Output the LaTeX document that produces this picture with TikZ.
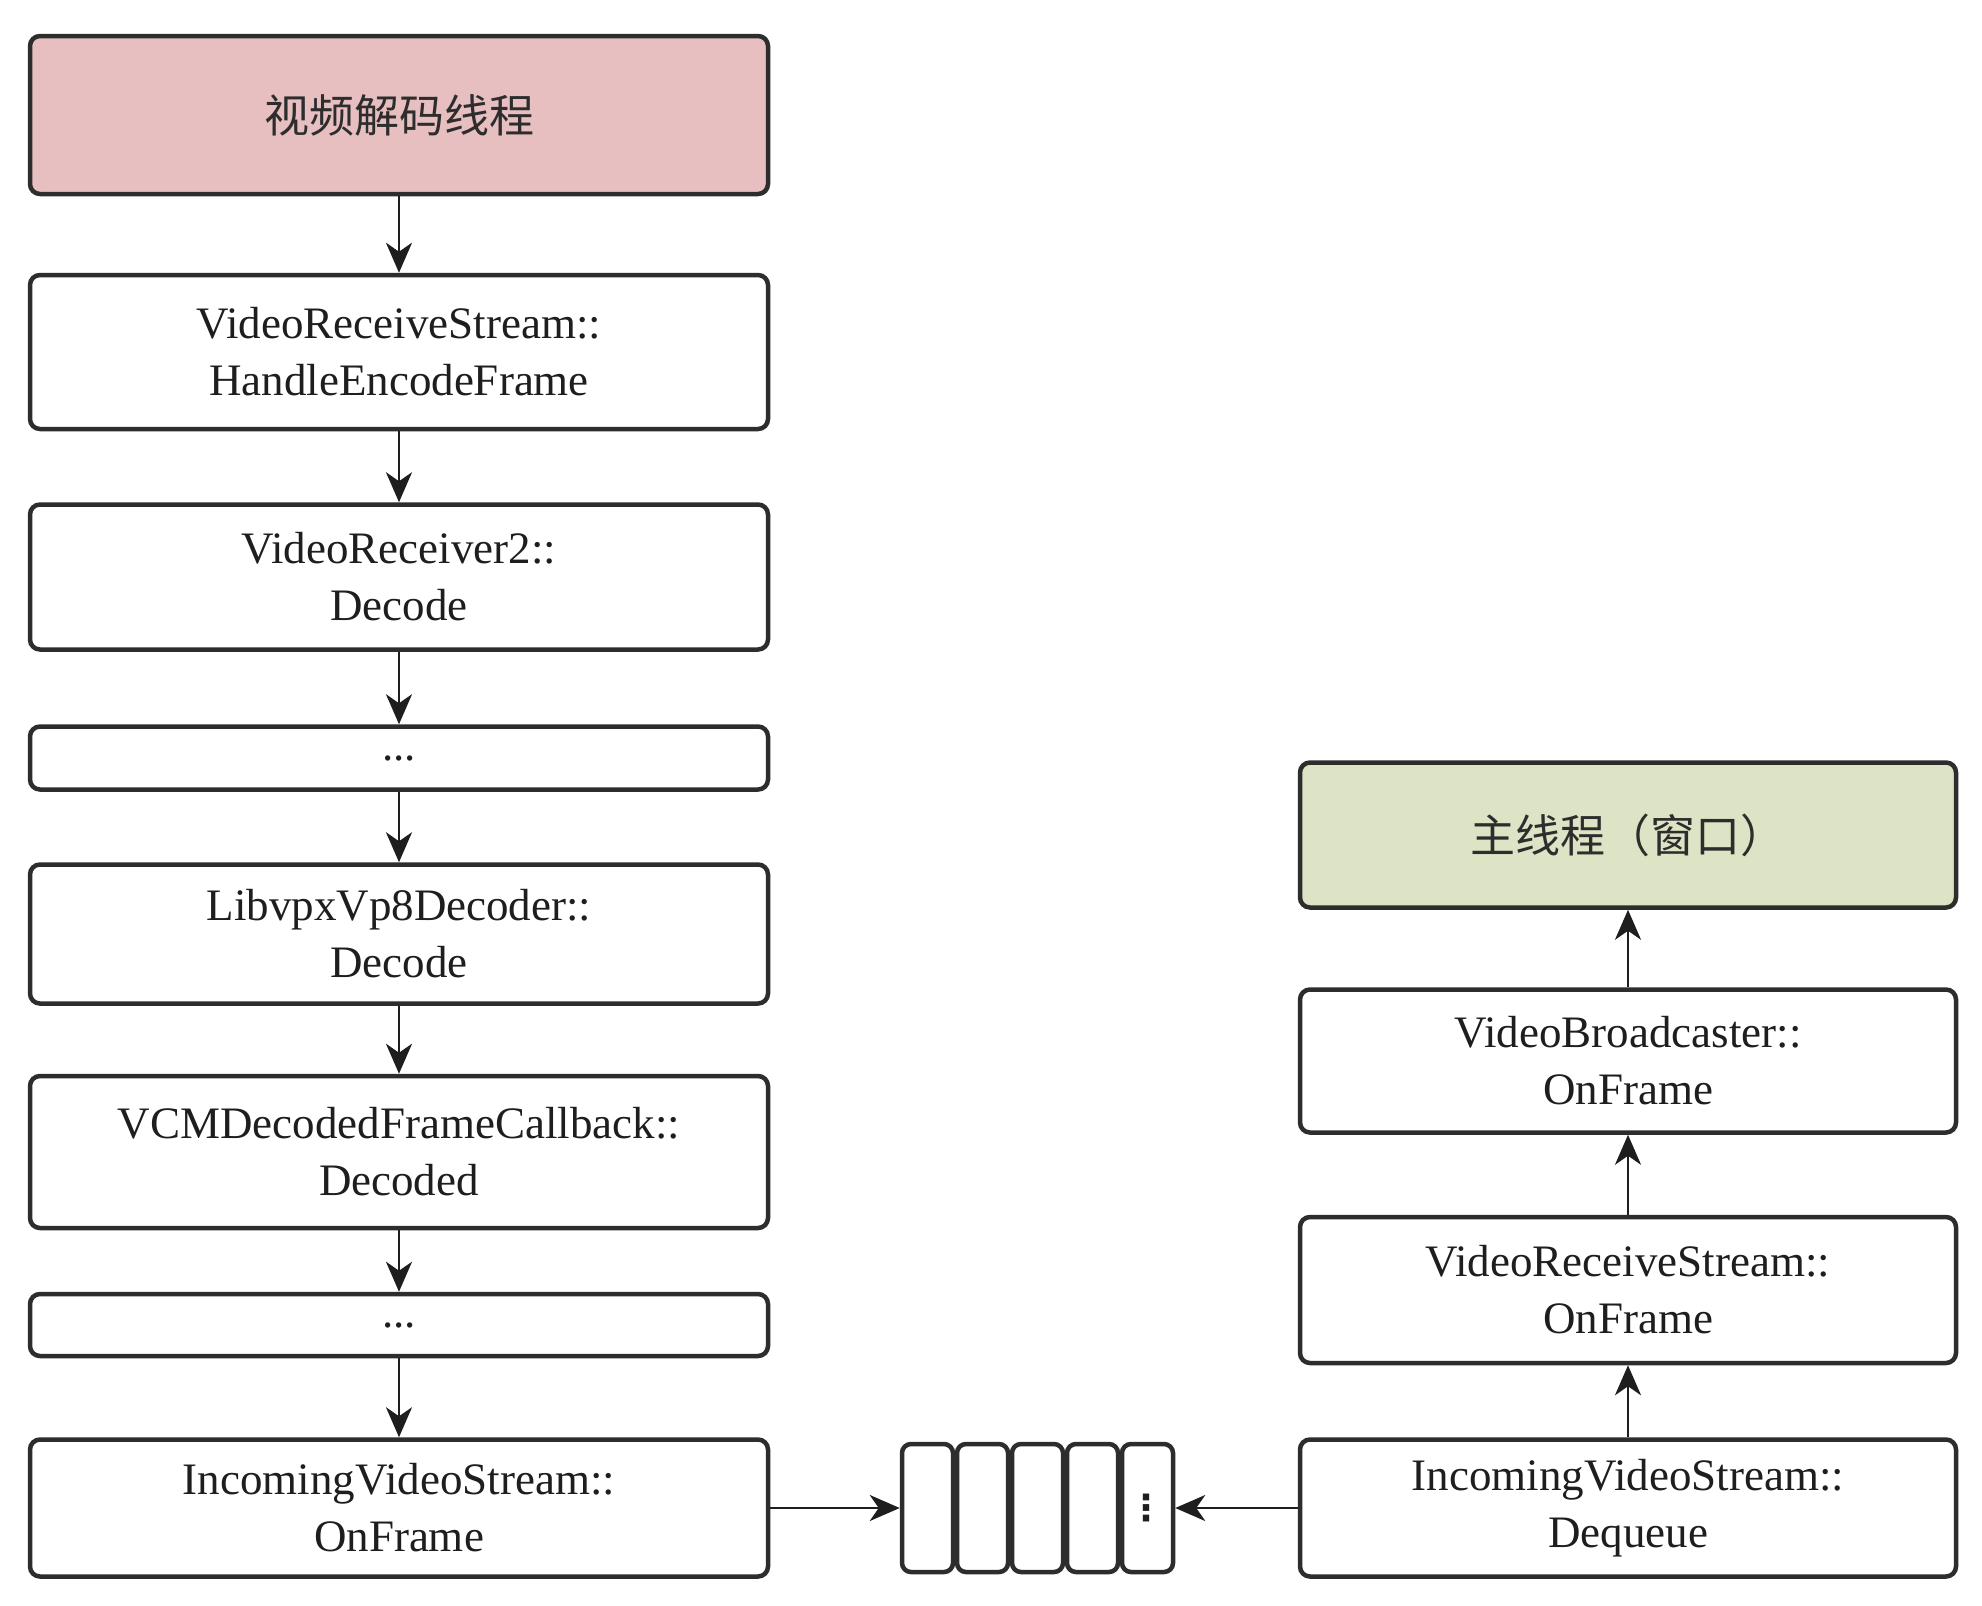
\documentclass[tikz,border=0pt]{standalone}
\usepackage{fontspec}
\setmainfont{Liberation Serif}
\newfontfamily\cjk{Noto Sans CJK SC}
\newfontfamily\dejavu{DejaVu Sans}
\usetikzlibrary{arrows.meta}
\definecolor{pinkfill}{RGB}{232,191,192}
\definecolor{greenfill}{RGB}{221,228,197}
\definecolor{edge}{RGB}{45,45,45}
\definecolor{txt}{RGB}{30,30,30}
\begin{document}
\begin{tikzpicture}[x=1pt,y=-1pt,
  box/.style={draw=edge,line width=4.5pt,rounded corners=10pt,fill=white,
    minimum width=738pt,align=center,inner sep=0pt,text=txt,
    font=\fontsize{45}{57}\selectfont},
  rbox/.style={box,minimum width=656pt},
  cell/.style={draw=edge,line width=4.5pt,rounded corners=9pt,fill=white,
    minimum width=51pt,minimum height=128pt,inner sep=0pt},
  arr/.style={draw=txt,line width=2.5pt,-{Stealth[length=30pt,width=26pt,inset=9pt]}}]
\useasboundingbox (0,0) rectangle (1982,1606);
\fill[white] (0,0) rectangle (1982,1606);
% left column
\node[box,fill=pinkfill,minimum height=158pt,text=edge] (b1) at (399,115) {\cjk 视频解码线程};
\node[box,minimum height=154pt] (b2) at (399,352) {VideoReceiveStream::\\HandleEncodeFrame};
\node[box,minimum height=145pt] (b3) at (399,577) {VideoReceiver2::\\Decode};
\node[box,minimum height=63pt] (b4) at (399,758) {...};
\node[box,minimum height=139pt] (b5) at (399,934) {LibvpxVp8Decoder::\\Decode};
\node[box,minimum height=152pt] (b6) at (399,1152) {VCMDecodedFrameCallback::\\Decoded};
\node[box,minimum height=62pt] (b7) at (399,1325) {...};
\node[box,minimum height=137pt] (b8) at (399,1508) {IncomingVideoStream::\\OnFrame};
% right column
\node[rbox,fill=greenfill,minimum height=145pt,text=edge] (g) at (1628,835) {\cjk 主线程（窗口）};
\node[rbox,minimum height=143pt] (r1) at (1628,1061) {VideoBroadcaster::\\OnFrame};
\node[rbox,minimum height=146pt] (r2) at (1628,1290) {VideoReceiveStream::\\OnFrame};
\node[rbox,minimum height=137pt] (r3) at (1628,1508) {IncomingVideoStream::\\Dequeue};
% queue
\node[cell] (q1) at (927.5,1508) {};
\node[cell] (q2) at (982.5,1508) {};
\node[cell] (q3) at (1037.5,1508) {};
\node[cell] (q4) at (1092.5,1508) {};
\node[cell] (q5) at (1147.5,1508) {};
\node[text=txt,inner sep=0pt,font=\dejavu\bfseries\fontsize{36}{36}\selectfont] (qd) at (1146,1508) {⋮};
% connectors
\draw[arr] (b1) -- (b2);
\draw[arr] (b2) -- (b3);
\draw[arr] (b3) -- (b4);
\draw[arr] (b4) -- (b5);
\draw[arr] (b5) -- (b6);
\draw[arr] (b6) -- (b7);
\draw[arr] (b7) -- (b8);
\draw[arr] (b8.east) -- (q1.west);
\draw[arr] (r3.west) -- (q5.east);
\draw[arr] (r3) -- (r2);
\draw[arr] (r2) -- (r1);
\draw[arr] (r1) -- (g);
\end{tikzpicture}
\end{document}
